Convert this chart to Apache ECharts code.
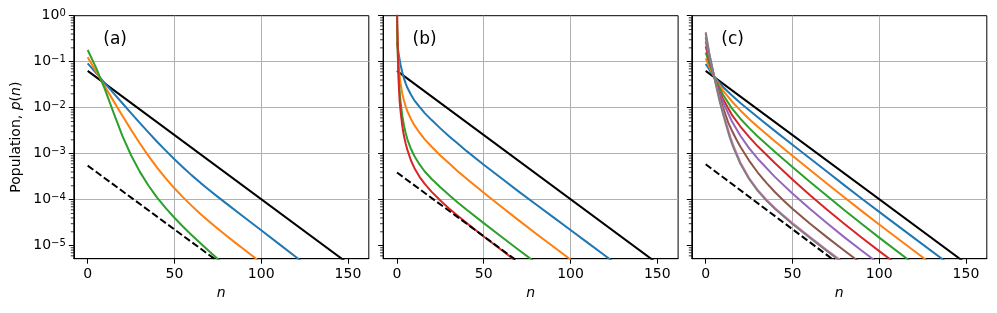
<!DOCTYPE html>
<html>
<head>
<meta charset="utf-8">
<script src="https://cdn.jsdelivr.net/npm/echarts@6/dist/echarts.min.js"></script>
<style>
html,body{margin:0;padding:0;background:#ffffff;}
#chart{width:997px;height:313px;}
</style>
</head>
<body>
<div id="chart"></div>
<script>
// ---------- axis settings / tick labels ----------
const X_MIN = -8, X_MAX = 162;
const Y_MIN = 5.2e-6, Y_MAX = 1;
const xTicks = [0, 50, 100, 150];
const yTicks = [1e-5, 1e-4, 1e-3, 1e-2, 1e-1, 1];
const yMinorTicks = [6e-6, 7e-6, 8e-6, 9e-6,
  2e-5, 3e-5, 4e-5, 5e-5, 6e-5, 7e-5, 8e-5, 9e-5,
  2e-4, 3e-4, 4e-4, 5e-4, 6e-4, 7e-4, 8e-4, 9e-4,
  2e-3, 3e-3, 4e-3, 5e-3, 6e-3, 7e-3, 8e-3, 9e-3,
  2e-2, 3e-2, 4e-2, 5e-2, 6e-2, 7e-2, 8e-2, 9e-2,
  2e-1, 3e-1, 4e-1, 5e-1, 6e-1, 7e-1, 8e-1, 9e-1];
const panelLabels = ['(a)', '(b)', '(c)'];
const xName = 'n';
const yName = 'Population, {i|p}({i|n})';

// ---------- data: [n, log10 p(n)] ----------
// panel (a)
const aBlack  = [[0, -1.2], [150, -5.385]];
const aDashed = [[0, -3.26], [80, -5.48]];
const aBlue   = [[0,-1.035],[5,-1.253],[10,-1.47],[15,-1.687],[20,-1.904],[25,-2.119],[30,-2.331],[35,-2.538],[40,-2.74],[45,-2.935],[50,-3.123],[55,-3.301],[60,-3.472],[65,-3.635],[70,-3.79],[75,-3.94],[80,-4.087],[90,-4.377],[100,-4.667],[110,-4.957],[120,-5.247],[130,-5.537]];
const aOrange = [[0,-0.905],[5,-1.225],[10,-1.545],[15,-1.863],[20,-2.175],[25,-2.48],[30,-2.773],[35,-3.048],[40,-3.303],[45,-3.538],[50,-3.753],[55,-3.95],[60,-4.135],[65,-4.31],[70,-4.475],[75,-4.633],[80,-4.785],[85,-4.934],[90,-5.08],[95,-5.225],[100,-5.37]];
const aGreen  = [[0,-0.745],[5,-1.145],[10,-1.608],[15,-2.12],[20,-2.613],[25,-3.035],[30,-3.39],[35,-3.693],[40,-3.955],[45,-4.185],[50,-4.393],[55,-4.588],[60,-4.773],[65,-4.95],[70,-5.123],[75,-5.29],[80,-5.453]];
// panel (b)
const bBlack  = [[0, -1.2], [150, -5.385]];
const bDashed = [[0, -3.41], [80, -5.63]];
const bBlue   = [[0,-0.565],[0.5,-0.714],[1,-0.838],[1.5,-0.952],[2,-1.056],[3,-1.224],[4,-1.362],[5,-1.47],[6,-1.568],[8,-1.714],[10,-1.84],[13,-1.984],[16,-2.118],[20,-2.27],[25,-2.45],[30,-2.62],[35,-2.78],[40,-2.94],[50,-3.24],[60,-3.53],[70,-3.82],[80,-4.10],[90,-4.38],[100,-4.66],[110,-4.94],[120,-5.22],[130,-5.50]];
const bOrange = [[0,-0.25],[0.5,-0.764],[1,-1.078],[1.5,-1.292],[2,-1.456],[3,-1.684],[4,-1.842],[5,-1.97],[6,-2.078],[8,-2.244],[10,-2.38],[13,-2.544],[16,-2.688],[20,-2.85],[25,-3.04],[30,-3.21],[35,-3.38],[40,-3.54],[50,-3.85],[60,-4.15],[70,-4.445],[80,-4.735],[90,-5.02],[100,-5.30],[110,-5.58]];
const bGreen  = [[0,0],[0.5,-0.914],[1,-1.328],[1.5,-1.642],[2,-1.856],[3,-2.164],[4,-2.382],[5,-2.55],[6,-2.688],[8,-2.894],[10,-3.05],[13,-3.234],[16,-3.388],[20,-3.55],[25,-3.73],[30,-3.90],[35,-4.06],[40,-4.215],[50,-4.51],[60,-4.80],[70,-5.09],[80,-5.37]];
const bRed    = [[0,0.3],[0.3,-0.408],[0.6,-0.967],[1,-1.478],[1.5,-1.842],[2,-2.056],[3,-2.384],[4,-2.612],[5,-2.78],[6,-2.918],[8,-3.144],[10,-3.31],[13,-3.504],[16,-3.658],[20,-3.83],[25,-4.02],[30,-4.19],[35,-4.35],[40,-4.505],[50,-4.80],[60,-5.09],[70,-5.375]];
// panel (c)
const cBlack  = [[0, -1.2], [150, -5.385]];
const cDashed = [[0, -3.23], [80, -5.49]];
const cBlue   = [[0,-1.05],[2,-1.166],[5,-1.33],[10,-1.55],[15,-1.73],[20,-1.90],[30,-2.21],[40,-2.51],[50,-2.805],[60,-3.10],[70,-3.395],[80,-3.69],[90,-3.98],[100,-4.265],[120,-4.832],[140,-5.395]];
const cOrange = [[0,-0.93],[2,-1.106],[5,-1.34],[10,-1.63],[15,-1.86],[20,-2.06],[25,-2.245],[30,-2.415],[40,-2.735],[50,-3.045],[60,-3.35],[70,-3.655],[80,-3.955],[90,-4.25],[100,-4.542],[120,-5.112],[140,-5.675]];
const cGreen  = [[0,-0.80],[2,-1.026],[5,-1.34],[10,-1.72],[15,-2.01],[20,-2.24],[25,-2.44],[30,-2.625],[40,-2.965],[50,-3.29],[60,-3.61],[70,-3.922],[80,-4.23],[90,-4.53],[100,-4.825],[120,-5.40]];
const cRed    = [[0,-0.67],[2,-0.946],[5,-1.34],[8,-1.644],[10,-1.81],[15,-2.15],[20,-2.41],[25,-2.635],[30,-2.84],[40,-3.21],[50,-3.56],[60,-3.90],[70,-4.22],[80,-4.53],[90,-4.83],[100,-5.12],[110,-5.40]];
const cPurple = [[0,-0.565],[2,-0.916],[5,-1.34],[8,-1.684],[10,-1.88],[15,-2.29],[20,-2.61],[25,-2.88],[30,-3.11],[40,-3.51],[50,-3.865],[60,-4.20],[70,-4.515],[80,-4.82],[90,-5.11],[100,-5.395]];
const cBrown  = [[0,-0.47],[2,-0.876],[5,-1.34],[8,-1.754],[10,-2.0],[13,-2.324],[15,-2.49],[18,-2.714],[20,-2.85],[25,-3.15],[30,-3.41],[35,-3.635],[40,-3.84],[45,-4.025],[50,-4.20],[60,-4.52],[70,-4.82],[80,-5.11],[90,-5.395]];
const cPink   = [[0,-0.40],[2,-0.826],[5,-1.34],[8,-1.824],[10,-2.10],[12,-2.356],[14.4,-2.653],[16,-2.828],[20,-3.19],[25,-3.53],[30,-3.79],[35,-4.0],[40,-4.185],[50,-4.51],[60,-4.81],[70,-5.10],[80,-5.38]];
const cGray   = [[0,-0.36],[2,-0.806],[5,-1.35],[8,-1.854],[10,-2.14],[12,-2.406],[14,-2.662],[16,-2.868],[20,-3.22],[25,-3.55],[30,-3.81],[35,-4.02],[40,-4.205],[50,-4.53],[60,-4.83],[70,-5.12],[80,-5.405]];

// ---------- styling ----------
const C = {blue:'#1f77b4', orange:'#ff7f0e', green:'#2ca02c', red:'#d62728', purple:'#9467bd', brown:'#8c564b', pink:'#e377c2', gray:'#7f7f7f', black:'#000000'};
const FONT = 'DejaVu Sans';
const GRID_TOP = 15.7, GRID_H = 243, GRID_W = 295;
const gridLefts = [73.8, 383.1, 691.8];

const panels = [
  {solid:[[aBlack,C.black]], curves:[[aBlue,C.blue],[aOrange,C.orange],[aGreen,C.green]], dashed:aDashed},
  {solid:[[bBlack,C.black]], curves:[[bBlue,C.blue],[bOrange,C.orange],[bGreen,C.green],[bRed,C.red]], dashed:bDashed},
  {solid:[[cBlack,C.black]], curves:[[cBlue,C.blue],[cOrange,C.orange],[cGreen,C.green],[cRed,C.red],[cPurple,C.purple],[cBrown,C.brown],[cPink,C.pink],[cGray,C.gray]], dashed:cDashed}
];

function toData(arr){ return arr.map(d => [d[0], Math.pow(10, d[1])]); }
function supLabel(v){
  const e = Math.round(Math.log10(v));
  if (Math.abs(Math.log10(v) - e) > 1e-6) return '';
  return '{b|10}{s|' + (e < 0 ? '\u2212' + (-e) : String(e)) + '}';
}

const grid = [], xAxis = [], yAxis = [], series = [], graphic = [];
panels.forEach((p, i) => {
  grid.push({left: gridLefts[i], top: GRID_TOP, width: GRID_W, height: GRID_H,
    show: true, borderColor: '#000', borderWidth: 1, backgroundColor: 'transparent'});
  xAxis.push({
    type: 'value', gridIndex: i, min: X_MIN, max: X_MAX, splitNumber: 3,
    axisLine: {show: true, onZero: false, lineStyle: {color: '#000', width: 1}},
    axisTick: {show: true, length: 5, customValues: xTicks, lineStyle: {color: '#000', width: 1}},
    axisLabel: {customValues: xTicks, color: '#000', fontSize: 14, fontFamily: FONT, margin: 9},
    splitLine: {show: true, showMinLine: false, showMaxLine: false, lineStyle: {color: '#b0b0b0', width: 1}},
    name: xName, nameLocation: 'middle', nameGap: 23,
    nameTextStyle: {fontStyle: 'italic', fontSize: 14, fontFamily: FONT, color: '#000'}
  });
  yAxis.push({
    type: 'log', logBase: 10, gridIndex: i, min: Y_MIN, max: Y_MAX,
    axisLine: {show: true, onZero: false, lineStyle: {color: '#000', width: 1}},
    axisTick: {show: true, length: 5, customValues: yTicks, lineStyle: {color: '#000', width: 1}},
    axisLabel: {show: i === 0, customValues: yTicks, margin: 8, formatter: supLabel,
      rich: {
        b: {fontSize: 14, fontFamily: FONT, color: '#000', lineHeight: 14, padding: [3, 0, 0, 0], verticalAlign: 'bottom'},
        s: {fontSize: 10, fontFamily: FONT, color: '#000', lineHeight: 12, verticalAlign: 'top'}
      }},
    splitLine: {show: true, showMinLine: false, showMaxLine: false, lineStyle: {color: '#b0b0b0', width: 1}},
    minorTick: {show: false},
    name: i === 0 ? yName : '', nameLocation: 'middle', nameGap: 50,
    nameTextStyle: {fontSize: 14, fontFamily: FONT, color: '#000',
      rich: {i: {fontStyle: 'italic', fontSize: 14, fontFamily: FONT, color: '#000'}}}
  });
  // minor ticks of the log axis, placed through the axis scale
  series.push({
    type: 'custom', xAxisIndex: i, yAxisIndex: i, clip: false, silent: true, z: 5,
    data: yMinorTicks.map(v => [X_MIN, v]),
    renderItem: (params, api) => {
      const pt = api.coord([api.value(0), api.value(1)]);
      return {type: 'line', shape: {x1: pt[0] - 3, y1: pt[1], x2: pt[0], y2: pt[1]},
        style: {stroke: '#000', lineWidth: 0.8}};
    }
  });
  p.solid.forEach(s => series.push({type: 'line', xAxisIndex: i, yAxisIndex: i, data: toData(s[0]),
    showSymbol: false, symbol: 'none', lineStyle: {color: s[1], width: 2}, itemStyle: {color: s[1]}, z: 2}));
  p.curves.forEach(s => series.push({type: 'line', xAxisIndex: i, yAxisIndex: i, data: toData(s[0]),
    showSymbol: false, symbol: 'none', smooth: false,
    lineStyle: {color: s[1], width: 2, join: 'round'}, itemStyle: {color: s[1]}, z: 3}));
  series.push({type: 'line', xAxisIndex: i, yAxisIndex: i, data: toData(p.dashed),
    showSymbol: false, symbol: 'none', lineStyle: {color: '#000', width: 2, type: [7, 3]}, z: 4});
  graphic.push({type: 'text', x: gridLefts[i] + 0.1 * GRID_W, y: GRID_TOP + 0.1 * GRID_H,
    style: {text: panelLabels[i], fontSize: 17, fontFamily: FONT, fill: '#000', verticalAlign: 'middle', align: 'left'}});
});

const chart = echarts.init(document.getElementById('chart'), null, {renderer: 'canvas'});
chart.setOption({animation: false, backgroundColor: '#fff', grid, xAxis, yAxis, series, graphic});
</script>
</body>
</html>
